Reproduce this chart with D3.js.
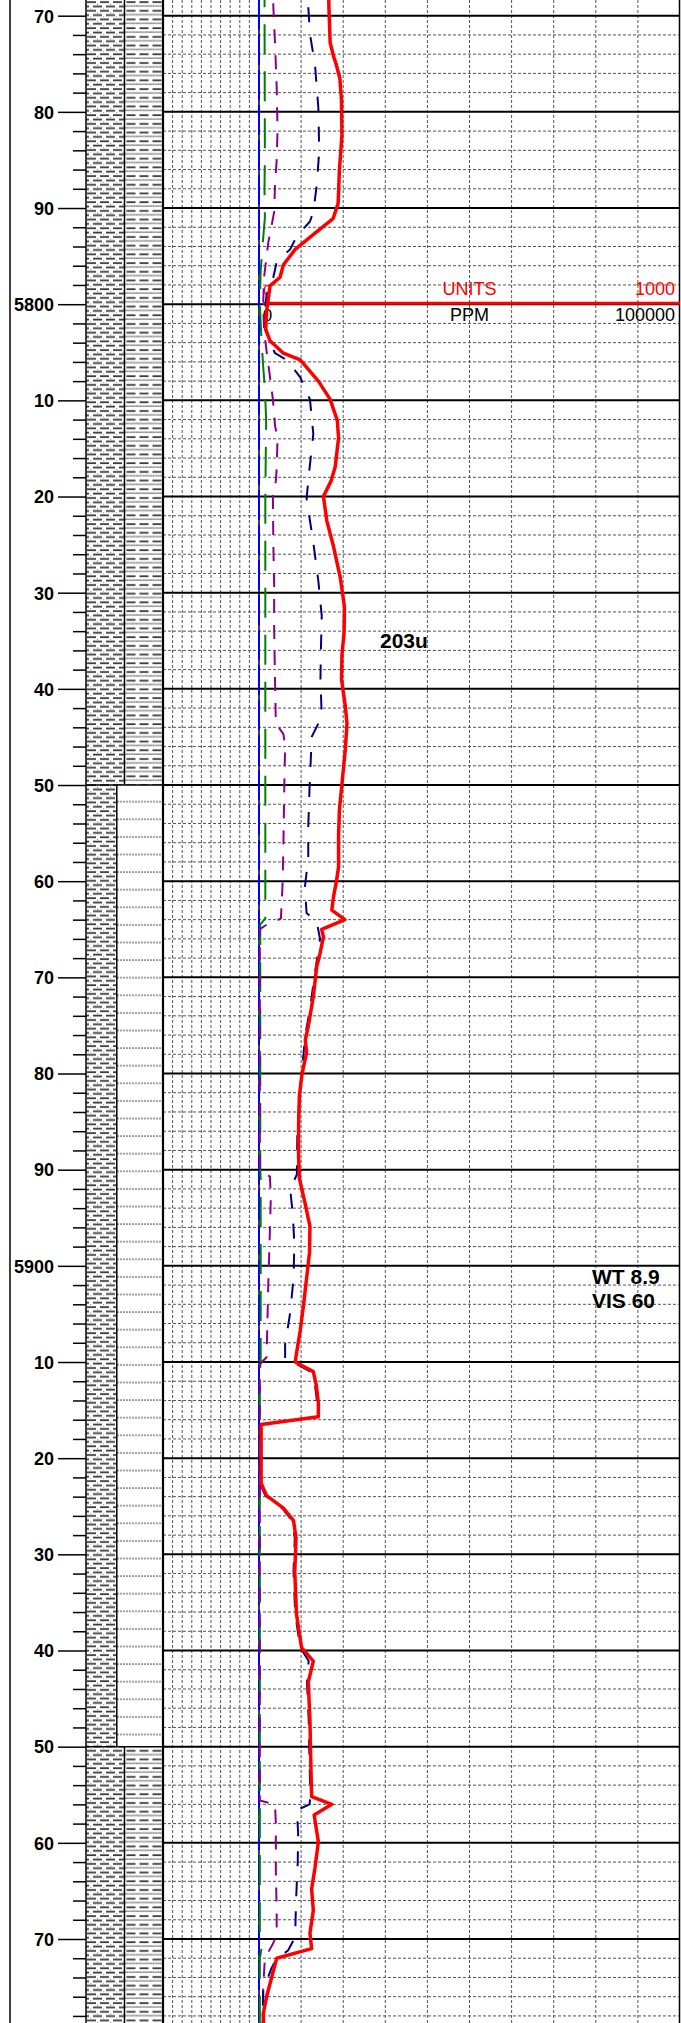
<!DOCTYPE html>
<html>
<head>
<meta charset="utf-8">
<script src="https://cdn.jsdelivr.net/npm/d3@7"></script>
<style>
  body { margin: 0; background: #fff; }
  svg { display: block; }
  text { font-family: "Liberation Sans", Arial, sans-serif; }
</style>
</head>
<body>
<svg id="log" width="681" height="2023"></svg>
<script>
// ---- Data ----
var majorDepths = [5770, 5780, 5790, 5800, 5810, 5820, 5830, 5840, 5850, 5860, 5870,
                   5880, 5890, 5900, 5910, 5920, 5930, 5940, 5950, 5960, 5970];
var depthLabels = ["70", "80", "90", "5800", "10", "20", "30", "40", "50", "60", "70",
                   "80", "90", "5900", "10", "20", "30", "40", "50", "60", "70"];

// lithology intervals: top, base, % shale (rest is the second rock)
var lithTop = [5760, 5850, 5950];
var lithBase = [5850, 5950, 5990];
var lithShalePct = [50, 40, 50];
var lithRock2 = ["siltyShale", "siltstone", "siltyShale"];

// total gas (units) [depth, value]
var totalGas = [[5766,165],[5769,166],[5772.8,169],[5774.2,177],[5775,183],[5776.5,192],[5778.8,196],
  [5782.4,197],[5784.3,194],[5786,191],[5789.5,188],[5791.1,176],[5792.9,125],[5794.3,86],[5795.9,58],
  [5797.2,50],[5798.1,26],[5799.5,22],[5800.8,18],[5802.6,16],[5803.8,26],[5805.1,58],[5805.8,98],
  [5808,141],[5809.9,169],[5812.1,186],[5813.9,189],[5816.9,181],[5818.4,171],[5820,153],[5822.5,161],
  [5825.2,177],[5828.4,193],[5831.5,203],[5834.2,202],[5836.5,197],[5839,196],[5841.8,205],[5843.6,209],
  [5846.3,205],[5849.9,197],[5852.6,191],[5855.3,189],[5858.5,189],[5860,184],[5861.6,177],[5863,173],
  [5864,204],[5865,149],[5865.8,153],[5867.5,145],[5868.9,137],[5872,129],[5875.1,117],[5876.5,110],
  [5877.8,113],[5880.1,102],[5882.3,96],[5885.5,94],[5888.6,94],[5890.9,96],[5893.6,110],[5895.9,121],
  [5898.6,120],[5901.3,113],[5904,106],[5906.7,98],[5909.4,88],[5910,86],[5911,129],[5912.4,136],
  [5914.2,141],[5915.7,141],[5916.5,5],[5922.6,5],[5923.9,18],[5925.2,58],[5926.5,82],[5928.3,88],
  [5931.8,85],[5936.2,89],[5939.7,101],[5941.1,129],[5943.3,117],[5947.2,121],[5951.6,123],[5955.2,125],
  [5956,173],[5957.1,131],[5959.9,141],[5962.6,133],[5964.8,125],[5967,129],[5969.4,121],[5971,125],
  [5972,42],[5974,30],[5976,18],[5977.8,10],[5980,12]];

// navy dashed (ppm scale)
var gasNavy = [[5766,115],[5769,117],[5771.9,121],[5775.1,133],[5779.6,141],[5784.1,143],[5787.7,137],
  [5790.4,129],[5791.4,121],[5792.9,90],[5794.3,74],[5795.6,42],[5797.2,34],[5799,18],[5800.8,14],
  [5802.6,14],[5805.1,38],[5805.8,66],[5807.6,98],[5809.9,121],[5813.5,129],[5817.1,120],[5820.2,113],
  [5824.8,129],[5828.8,141],[5832.4,149],[5836,147],[5839,146],[5842.9,149],[5845,125],[5846.3,124],
  [5850.4,120],[5854.4,117],[5857.6,117],[5860.6,109],[5863.3,113],[5864.2,137],[5866,145],[5869.5,133],
  [5873.3,121],[5876,110],[5879.6,102],[5882.3,96],[5886.4,91],[5890.5,90],[5892,74],[5894.5,80],
  [5897.7,84],[5901.3,82],[5904.9,74],[5908.2,62],[5909.8,62],[5910.3,93],[5911,122],[5912.4,133],
  [5914.2,138],[5915.7,138],[5916.5,2],[5922.6,2],[5923.9,15],[5925.2,55],[5926.5,79],[5928.3,85],
  [5931.8,82],[5936.2,86],[5939.7,98],[5941.1,118],[5943.3,114],[5947.2,118],[5951.6,120],[5955.2,122],
  [5956,120],[5956.6,90],[5959,93],[5962,92],[5966,88],[5969.5,86],[5970.2,81],[5971.2,69],[5972,42],
  [5973,30],[5975.3,10],[5980,8]];

// purple dashed
var gasPurple = [[5766,34],[5769,34],[5772.8,38],[5777.4,42],[5781.9,44],[5785,42],[5787.7,38],[5790.4,36],
  [5791.8,30],[5793.6,22],[5795.4,17],[5797.2,12],[5799.9,10],[5802.6,12],[5804.9,18],[5807.2,25],
  [5809.9,33],[5812.6,38],[5813.9,44],[5817.1,42],[5818.4,40],[5819.8,33],[5824.8,34],[5829.3,36],
  [5833.8,36],[5839,38],[5843.6,40],[5844.7,58],[5845.9,62],[5850.4,60],[5856.2,58],[5860.3,56],
  [5863.9,52],[5864.4,22],[5865,2],[5890.3,2],[5890.7,26],[5893,28],[5897.7,25],[5902,22],[5909.5,18],
  [5910.2,2],[5955.6,2],[5956,38],[5958,40],[5963,40],[5967,42],[5969.6,42],[5970.5,33],[5972,14],
  [5975,10],[5980,9]];

// green dashed
var gasGreen = [[5766,13],[5785,14],[5788,13],[5791,14],[5793.6,9],[5796.5,4],[5800,2],[5803.8,6],
  [5806.5,10],[5808.8,14],[5812,17],[5820,15],[5863.9,15],[5864.5,3],[5890,3],[5891,4],[5910,4],
  [5911,2],[5969,2],[5971,6],[5972,2],[5980,2]];

// ---- Layout ----
var W = 681, H = 2023;
var svg = d3.select("#log");

var y = d3.scaleLinear().domain([5770, 5970]).range([15.7, 1939]);
var xGas = d3.scaleLinear().domain([0, 1000]).range([259, 680]);
var xRop = d3.scaleLinear().domain([0, 10]).range([163, 259]);
var xLith = d3.scaleLinear().domain([0, 100]).range([86, 163]);

var dTop = y.invert(0), dBot = y.invert(H);

// ---- Patterns ----
var defs = svg.append("defs");

// shale: brick rows of dark dashes
var shale = defs.append("pattern").attr("id", "shale")
    .attr("patternUnits", "userSpaceOnUse").attr("width", 26).attr("height", 8.7)
    .attr("x", xLith(0)).attr("y", 0);
shale.append("rect").attr("width", 26).attr("height", 8.7).attr("fill", "#fff");
[[1, 1.2, 9], [14, 1.2, 9], [-6, 5.5, 9], [7, 5.5, 9], [20, 5.5, 9]].forEach(function(r) {
  shale.append("rect").attr("x", r[0]).attr("y", r[1]).attr("width", r[2]).attr("height", 1.8).attr("fill", "#3c3c3c");
});
[[11, 3.6], [24, 3.6], [4, 7.9], [17, 7.9]].forEach(function(r) {
  shale.append("rect").attr("x", r[0]).attr("y", r[1]).attr("width", 1.2).attr("height", 1).attr("fill", "#888");
});

// silty shale: dash rows alternating with dotted rows
var silty = defs.append("pattern").attr("id", "siltyShale")
    .attr("patternUnits", "userSpaceOnUse").attr("width", 13).attr("height", 8.7)
    .attr("x", xLith(50)).attr("y", 0);
silty.append("rect").attr("width", 13).attr("height", 8.7).attr("fill", "#fff");
silty.append("rect").attr("x", 2).attr("y", 1.2).attr("width", 9).attr("height", 1.8).attr("fill", "#3c3c3c");
d3.range(0.5, 13, 2.2).forEach(function(dx) {
  silty.append("rect").attr("x", dx).attr("y", 5.2).attr("width", 1.3).attr("height", 1.6).attr("fill", "#5a5a5a");
});

// siltstone: sparse light dashed rows
var silt = defs.append("pattern").attr("id", "siltstone")
    .attr("patternUnits", "userSpaceOnUse").attr("width", 3).attr("height", 17.6)
    .attr("y", y(5850));
silt.append("rect").attr("width", 3).attr("height", 17.6).attr("fill", "#fff");
silt.append("rect").attr("x", 0).attr("y", 17.6 - 1.8).attr("width", 2).attr("height", 1.8).attr("fill", "#9a9a9a");

// ---- Lithology ----
var lith = svg.append("g");
lithTop.forEach(function(t, i) {
  var y0 = Math.max(y(t), 0), y1 = Math.min(y(lithBase[i]), H);
  var xs = xLith(lithShalePct[i]);
  lith.append("rect").attr("x", xLith(0)).attr("y", y0).attr("width", xs - xLith(0)).attr("height", y1 - y0)
      .attr("fill", "url(#shale)");
  lith.append("rect").attr("x", xs).attr("y", y0).attr("width", xLith(100) - xs).attr("height", y1 - y0)
      .attr("fill", "url(#" + lithRock2[i] + ")");
  lith.append("line").attr("x1", xs).attr("x2", xs).attr("y1", y0).attr("y2", y1)
      .attr("stroke", "#000").attr("stroke-width", 1.5);
  if (i > 0) {
    lith.append("line").attr("x1", xLith(0)).attr("x2", xLith(100)).attr("y1", y(t)).attr("y2", y(t))
        .attr("stroke", "#000").attr("stroke-width", 1.5);
  }
});
lith.append("line").attr("x1", xLith(0)).attr("x2", xLith(0)).attr("y1", 0).attr("y2", H)
    .attr("stroke", "#000").attr("stroke-width", 1.5);

// ---- Grid ----
var grid = svg.append("g");
var minorDepths = d3.range(Math.ceil(dTop / 2) * 2, dBot, 2).filter(function(d) { return d % 10 != 0; });

grid.selectAll("line.hminor").data(minorDepths).enter().append("line")
    .attr("x1", xRop(0)).attr("x2", xGas(1000))
    .attr("y1", function(d) { return y(d); }).attr("y2", function(d) { return y(d); })
    .attr("stroke", "#555").attr("stroke-width", 1).attr("stroke-dasharray", "3,2");

grid.selectAll("line.vrop").data(d3.range(1, 10)).enter().append("line")
    .attr("x1", function(d) { return xRop(d); }).attr("x2", function(d) { return xRop(d); })
    .attr("y1", 0).attr("y2", H)
    .attr("stroke", "#555").attr("stroke-width", 1).attr("stroke-dasharray", "3,2");

grid.selectAll("line.vgas").data(d3.range(100, 1000, 100)).enter().append("line")
    .attr("x1", function(d) { return xGas(d); }).attr("x2", function(d) { return xGas(d); })
    .attr("y1", 0).attr("y2", H)
    .attr("stroke", "#555").attr("stroke-width", 1).attr("stroke-dasharray", "3,2");

grid.selectAll("line.hmajor").data(majorDepths).enter().append("line")
    .attr("x1", xRop(0)).attr("x2", xGas(1000))
    .attr("y1", function(d) { return y(d); }).attr("y2", function(d) { return y(d); })
    .attr("stroke", "#000").attr("stroke-width", 2);

// track borders
[[xRop(0), 2.2], [xGas(0), 1.5], [xGas(1000) - 0.5, 1.5]].forEach(function(b) {
  grid.append("line").attr("x1", b[0]).attr("x2", b[0]).attr("y1", 0).attr("y2", H)
      .attr("stroke", "#000").attr("stroke-width", b[1]);
});

// ---- Depth axis ----
svg.append("line").attr("x1", 10).attr("x2", 10).attr("y1", 0).attr("y2", H)
    .attr("stroke", "#000").attr("stroke-width", 1.5);

var axisMinor = svg.append("g").attr("transform", "translate(" + xLith(0) + ",0)")
    .call(d3.axisLeft(y).tickValues(minorDepths).tickSize(13).tickFormat(""));
var axisMajor = svg.append("g").attr("transform", "translate(" + xLith(0) + ",0)")
    .call(d3.axisLeft(y).tickValues(majorDepths).tickSize(28).tickPadding(4)
      .tickFormat(function(d, i) { return depthLabels[i]; }));
[axisMinor, axisMajor].forEach(function(a) {
  a.select(".domain").remove();
  a.selectAll(".tick line").attr("stroke", "#000").attr("stroke-width", 1.5);
});
axisMajor.selectAll(".tick text")
    .attr("font-family", "'Liberation Sans', Arial, sans-serif")
    .attr("font-size", 18).attr("font-weight", "bold").attr("fill", "#000").attr("dy", "0.35em");

// ---- Baseline ----
svg.append("line").attr("x1", xGas(0)).attr("x2", xGas(0)).attr("y1", 0).attr("y2", H)
    .attr("stroke", "#0000ff").attr("stroke-width", 2).attr("stroke-dasharray", "30,5");

// ---- Header scale ----
var yh = y(5800) - 1;
svg.append("line").attr("x1", xGas(0) + 4).attr("x2", xGas(1000)).attr("y1", yh).attr("y2", yh)
    .attr("stroke", "#ff0000").attr("stroke-width", 3);
var hdr = svg.append("g").attr("font-size", 18);
hdr.append("text").attr("x", xGas(500)).attr("y", yh - 8).attr("text-anchor", "middle").attr("fill", "#ff0000").text("UNITS");
hdr.append("text").attr("x", xGas(1000) - 5).attr("y", yh - 8).attr("text-anchor", "end").attr("fill", "#ff0000").text("1000");
hdr.append("text").attr("x", xGas(500)).attr("y", yh + 18).attr("text-anchor", "middle").attr("fill", "#000").text("PPM");
hdr.append("text").attr("x", xGas(1000) - 5).attr("y", yh + 18).attr("text-anchor", "end").attr("fill", "#000").text("100000");
hdr.append("text").attr("x", xGas(20)).attr("y", yh - 8).attr("text-anchor", "middle").attr("fill", "#ff0000").attr("font-size", 15).text("0");
hdr.append("text").attr("x", xGas(20)).attr("y", yh + 18).attr("text-anchor", "middle").attr("fill", "#000").attr("font-size", 17).text("0");

// ---- Curves ----
var line = d3.line().x(function(d) { return xGas(d[1]); }).y(function(d) { return y(d[0]); });
var curves = [
  { data: gasGreen, color: "#008000", width: 2, dash: "30,17" },
  { data: gasPurple, color: "#8b008b", width: 2, dash: "14,12" },
  { data: gasNavy, color: "#00007f", width: 2, dash: "15,15" },
  { data: totalGas, color: "#ff0000", width: 3.5, dash: null }
];
curves.forEach(function(c) {
  svg.append("path").attr("d", line(c.data)).attr("fill", "none")
      .attr("stroke", c.color).attr("stroke-width", c.width)
      .attr("stroke-dasharray", c.dash).attr("stroke-linejoin", "round");
});

// ---- Annotations ----
var notes = svg.append("g").attr("font-weight", "bold").attr("fill", "#000");
notes.append("text").attr("x", 380).attr("y", y(5835) + 7).attr("font-size", 21).text("203u");
notes.append("text").attr("x", 592).attr("y", y(5901.4) + 5).attr("font-size", 21).text("WT 8.9");
notes.append("text").attr("x", 592).attr("y", y(5903.9) + 5).attr("font-size", 21).text("VIS 60");
</script>
</body>
</html>
